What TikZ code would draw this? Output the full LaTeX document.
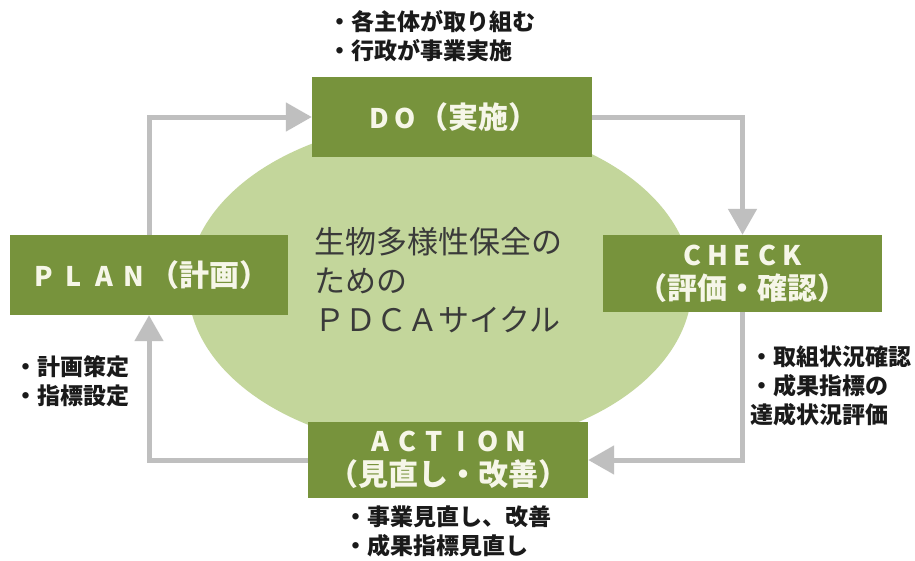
\documentclass[tikz,border=0pt]{standalone}
\usepackage{fontspec}
\newfontfamily\jp{Noto Sans CJK JP}
\usetikzlibrary{arrows.meta}
\definecolor{boxg}{HTML}{77933C}
\definecolor{ellg}{HTML}{C3D69B}
\definecolor{arrg}{HTML}{BFBFBF}
\definecolor{boxt}{HTML}{F6F6E8}
\definecolor{cent}{HTML}{3A3A3A}
\definecolor{lblt}{HTML}{1A1A1A}
\newcommand\Lt[2]{\makebox[#1][c]{\fontsize{27}{27}\selectfont #2}}
\begin{document}
\begin{tikzpicture}[x=1pt,y=-1pt,
  pdcabox/.style={fill=boxg, draw=none, text=boxt, font=\jp\bfseries\fontsize{30}{34}\selectfont, align=center, inner sep=0pt},
  lbl/.style={anchor=north west, inner sep=0pt, align=left, font=\jp\bfseries\fontsize{23}{29}\selectfont, text=lblt},
  flow/.style={draw=arrg, line width=5pt, -{Triangle[width=28pt,length=26pt]}}
]
\useasboundingbox (0,0) rectangle (915,560);
\fill[white] (0,0) rectangle (915,560);
\fill[ellg] (440,285) ellipse [x radius=252, y radius=164];

\node[pdcabox, minimum width=280pt, minimum height=80pt] (do) at (452,117)
  {\Lt{26pt}{D}\Lt{26pt}{O}（実施）};
\node[pdcabox, minimum width=279pt, minimum height=77pt] (check) at (742.5,273.5)
  {\Lt{25pt}{C}\Lt{25pt}{H}\Lt{25pt}{E}\Lt{25pt}{C}\Lt{25pt}{K}\\（評価・確認）};
\node[pdcabox, minimum width=278pt, minimum height=80pt] (plan) at (149,275)
  {\Lt{30pt}{P}\Lt{30pt}{L}\Lt{30pt}{A}\Lt{30pt}{N}（計画）};
\node[pdcabox, minimum width=280pt, minimum height=76pt] (action) at (448,460)
  {\Lt{27pt}{A}\Lt{27pt}{C}\Lt{27pt}{T}\Lt{27pt}{I}\Lt{27pt}{O}\Lt{27pt}{N}\\（見直し・改善）};

\draw[flow] (plan.north) |- (do.west);
\draw[flow] (do.east) -| (check.north);
\draw[flow] (check.south) |- (action.east);
\draw[flow] (action.west) -| (plan.south);

\node[anchor=north west, inner sep=0pt, align=left, text=cent,
  font=\jp\fontsize{31}{39}\selectfont] (center) at (314,227)
  {生物多様性保全の\\ための\\ＰＤＣＡサイクル};

\node[lbl] (dolbl) at (328,10) {・各主体が取り組む\\・行政が事業実施};
\node[lbl] (planlbl) at (14,355) {・計画策定\\・指標設定};
\node[lbl] (checklbl) at (750,346) {・取組状況確認\\・成果指標の\\達成状況評価};
\node[lbl] (actionlbl) at (344,506) {・事業見直し、改善\\・成果指標見直し};
\end{tikzpicture}
\end{document}
